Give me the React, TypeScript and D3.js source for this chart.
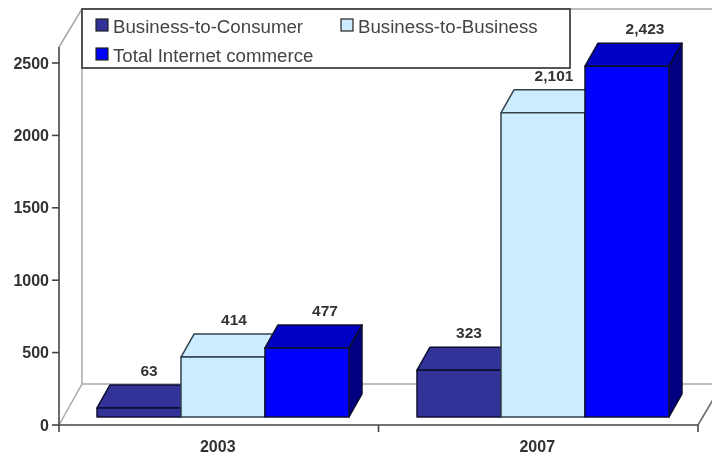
import React from "react";
import * as d3 from "d3";

const years = ["2003", "2007"];
const seriesNames = ["Business-to-Consumer", "Business-to-Business", "Total Internet commerce"];
const consumer = [63, 323];
const business = [414, 2101];
const total = [477, 2423];
const yTicks = [0, 500, 1000, 1500, 2000, 2500];
const valueLabels = [["63", "323"], ["414", "2,101"], ["477", "2,423"]];

const frontColors = ["#333399", "#CCECFF", "#0000FF"];
const topColors = ["#333399", "#CCECFF", "#0000C4"];
const sideColors = ["#20206a", "#9fc4dc", "#000080"];
const labelShift = [10, 11, 18];

const W = 712, H = 454;
const axisY = 425, axisX = 59, axisRight = 698;
const wallX = 82, wallTop = 9, floorBack = 384;
const barBase = 417;
const depthX = 13, depthY = 23;

const y = d3.scaleLinear().domain([0, 2500]).range([axisY, 63]);
const x0 = d3.scaleBand().domain(years).range([97, 737]);
const x1 = d3.scaleBand().domain(seriesNames).range([0, 252]);
const x0Axis = d3.scaleBand().domain(years).range([axisX, axisRight]);

const seriesValues = [consumer, business, total];
const fontFamily = "'Liberation Sans', Arial, sans-serif";
const textColor = "#333";

export default function App() {
  const legendRows: [number, number, number][] = [
    [0, 93, 28],
    [1, 338, 28],
    [2, 93, 57],
  ];
  return (
    <svg
      width={W}
      height={H}
      viewBox={`0 0 ${W} ${H}`}
      style={{ position: "absolute", left: 0, top: 0, background: "#fff" }}
    >
      <defs>
        <filter id="soft" x="-2%" y="-2%" width="104%" height="104%">
          <feGaussianBlur stdDeviation="0.5" />
        </filter>
      </defs>
      <g filter="url(#soft)">
        {/* walls and floor */}
        <g fill="none" stroke="#a8a8a8" strokeWidth={1.5}>
          <line x1={wallX} x2={wallX} y1={wallTop} y2={floorBack} />
          <line x1={wallX} x2={W} y1={wallTop} y2={wallTop} />
          <line x1={wallX} x2={W} y1={floorBack} y2={floorBack} />
          <line x1={axisX} y1={47} x2={wallX} y2={wallTop} />
          <line x1={axisX} y1={axisY} x2={wallX} y2={floorBack} />
          <line x1={axisRight} y1={axisY} x2={W + 2} y2={398} stroke="#666" />
        </g>

        {/* bars */}
        {years.map((yr, c) => (
          <g key={yr}>
            {seriesNames.map((s, i) => {
              const v = seriesValues[i][c];
              const h = axisY - y(v);
              const xa = x0(yr)! + x1(s)!;
              const xb = xa + x1.bandwidth();
              const top = barBase - h;
              const stroke = i === 1 ? "#33424c" : "#0a0a30";
              return (
                <g key={s} stroke={stroke} strokeWidth={1.5} strokeLinejoin="round">
                  <path
                    d={`M${xa},${top}L${xa + depthX},${top - depthY}L${xb + depthX},${top - depthY}L${xb},${top}Z`}
                    fill={topColors[i]}
                  />
                  <path
                    d={`M${xb},${top}L${xb + depthX},${top - depthY}L${xb + depthX},${barBase - depthY}L${xb},${barBase}Z`}
                    fill={sideColors[i]}
                  />
                  <rect x={xa} y={top} width={xb - xa} height={h} fill={frontColors[i]} />
                </g>
              );
            })}
          </g>
        ))}

        {/* value labels */}
        {years.map((yr, c) =>
          seriesNames.map((s, i) => {
            const v = seriesValues[i][c];
            const top = barBase - (axisY - y(v));
            return (
              <text
                key={yr + s}
                x={x0(yr)! + x1(s)! + x1.bandwidth() / 2 + labelShift[i]}
                y={top - 32}
                textAnchor="middle"
                fontFamily={fontFamily}
                fontWeight="bold"
                fontSize={15.5}
                fill={textColor}
              >
                {valueLabels[i][c]}
              </text>
            );
          })
        )}

        {/* axes */}
        <g stroke="#444" strokeWidth={1.6}>
          <line x1={axisX} x2={axisX} y1={47} y2={axisY} />
          <line x1={axisX} x2={axisRight} y1={axisY} y2={axisY} />
          {yTicks.map((t) => (
            <line key={t} x1={52} x2={axisX} y1={y(t)} y2={y(t)} />
          ))}
          {x0Axis.domain().map((d) => (
            <line key={d} x1={x0Axis(d)!} x2={x0Axis(d)!} y1={axisY} y2={432} />
          ))}
          <line x1={axisRight} x2={axisRight} y1={axisY} y2={432} />
        </g>
        {yTicks.map((t) => (
          <text
            key={t}
            x={49}
            y={y(t) + 5.5}
            textAnchor="end"
            fontFamily={fontFamily}
            fontWeight="bold"
            fontSize={16}
            fill={textColor}
          >
            {t}
          </text>
        ))}
        {years.map((yr) => (
          <text
            key={yr}
            x={x0Axis(yr)! + x0Axis.bandwidth() / 2 - 1}
            y={452}
            textAnchor="middle"
            fontFamily={fontFamily}
            fontWeight="bold"
            fontSize={16}
            fill={textColor}
          >
            {yr}
          </text>
        ))}

        {/* legend */}
        <rect x={82} y={9} width={488} height={59} fill="#fff" stroke="#444" strokeWidth={1.8} />
        {legendRows.map(([i, lx, ly]) => (
          <g key={i}>
            <rect
              x={lx + 3}
              y={ly - 9}
              width={12}
              height={12}
              fill={frontColors[i]}
              stroke="#222"
              strokeWidth={1.2}
            />
            <text
              x={lx + 20}
              y={ly + 5}
              fontFamily={fontFamily}
              fontSize={18.7}
              fill="#444"
            >
              {seriesNames[i]}
            </text>
          </g>
        ))}
      </g>
    </svg>
  );
}
